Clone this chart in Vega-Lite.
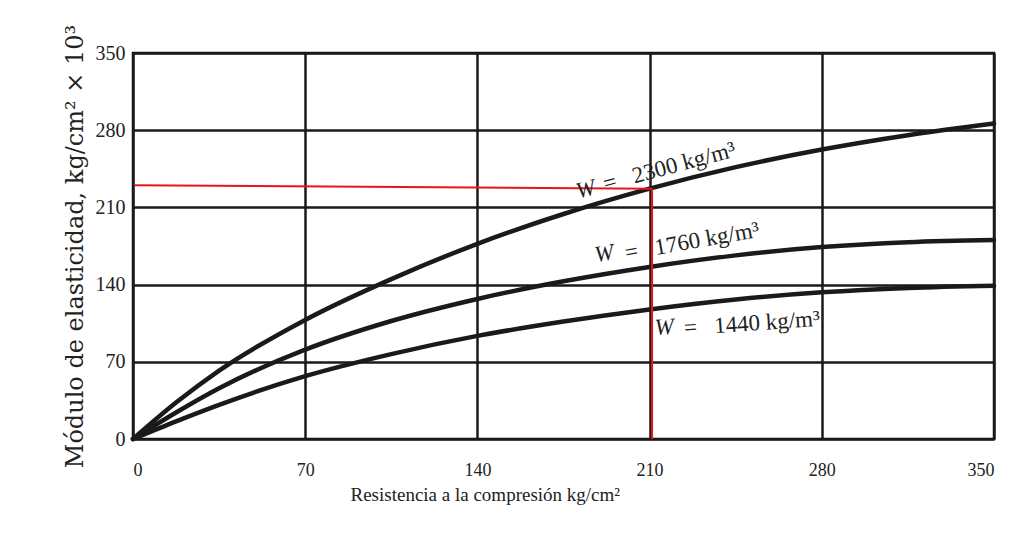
{
  "$schema": "https://vega.github.io/schema/vega-lite/v6.json",
  "width": 861,
  "height": 386,
  "autosize": {"type": "none"},
  "padding": {"left": 133, "top": 53, "right": 41, "bottom": 94},
  "background": "white",
  "config": {
    "view": {"stroke": "#111", "strokeWidth": 2.5},
    "axis": {
      "domain": false,
      "ticks": false,
      "grid": true,
      "gridColor": "#1a1a1a",
      "gridWidth": 2.5,
      "gridOpacity": 1,
      "labelFont": "Liberation Serif",
      "labelColor": "#222",
      "titleColor": "#222",
      "titleFontWeight": "normal"
    }
  },
  "datasets": {
    "curves": [
      {"r": 0, "e": 0, "w": "2300"}, {"r": 17.5, "e": 33, "w": "2300"}, {"r": 35, "e": 62, "w": "2300"},
      {"r": 70, "e": 108, "w": "2300"}, {"r": 105, "e": 145, "w": "2300"}, {"r": 140, "e": 177, "w": "2300"},
      {"r": 175, "e": 204, "w": "2300"}, {"r": 210, "e": 227, "w": "2300"}, {"r": 245, "e": 246.5, "w": "2300"},
      {"r": 280, "e": 262.5, "w": "2300"}, {"r": 315, "e": 275.5, "w": "2300"}, {"r": 350, "e": 286, "w": "2300"},
      {"r": 0, "e": 0, "w": "1760"}, {"r": 17.5, "e": 24, "w": "1760"}, {"r": 35, "e": 46, "w": "1760"},
      {"r": 70, "e": 81, "w": "1760"}, {"r": 105, "e": 107, "w": "1760"}, {"r": 140, "e": 127, "w": "1760"},
      {"r": 175, "e": 143, "w": "1760"}, {"r": 210, "e": 156, "w": "1760"}, {"r": 245, "e": 166.5, "w": "1760"},
      {"r": 280, "e": 174, "w": "1760"}, {"r": 315, "e": 178.5, "w": "1760"}, {"r": 350, "e": 180.5, "w": "1760"},
      {"r": 0, "e": 0, "w": "1440"}, {"r": 17.5, "e": 16, "w": "1440"}, {"r": 35, "e": 31, "w": "1440"},
      {"r": 70, "e": 57, "w": "1440"}, {"r": 105, "e": 77, "w": "1440"}, {"r": 140, "e": 93.5, "w": "1440"},
      {"r": 175, "e": 106.5, "w": "1440"}, {"r": 210, "e": 117.5, "w": "1440"}, {"r": 245, "e": 126.5, "w": "1440"},
      {"r": 280, "e": 133, "w": "1440"}, {"r": 315, "e": 137, "w": "1440"}, {"r": 350, "e": 139, "w": "1440"}
    ],
    "redlines": [
      {"x": 0.5, "y": 230, "x2": 211, "y2": 227},
      {"x": 211, "y": 227, "x2": 211, "y2": 0}
    ],
    "wlabels": [
      {"x": 184, "y": 226.3, "a": -15},
      {"x": 191.6, "y": 168, "a": -10},
      {"x": 216, "y": 101.2, "a": -4}
    ],
    "labels": [
      {"x": 191.3, "y": 230.8, "a": -15, "t": "= \u20022300 kg/m³"},
      {"x": 200, "y": 168.3, "a": -10, "t": "= \u20021760 kg/m³"},
      {"x": 224, "y": 100.3, "a": -4, "t": "= \u20021440 kg/m³"}
    ]
  },
  "layer": [
    {
      "data": {"name": "curves"},
      "mark": {"type": "line", "interpolate": "monotone", "stroke": "#1a1a1a", "strokeWidth": 4.5, "strokeCap": "round"},
      "encoding": {
        "x": {
          "field": "r", "type": "quantitative",
          "scale": {"domain": [0, 350], "nice": false},
          "axis": {
            "values": [0, 70, 140, 210, 280, 350],
            "labelFontSize": 18, "labelPadding": 22,
            "title": "Resistencia a la compresión kg/cm²",
            "titleFont": "Liberation Serif", "titleFontSize": 19, "titlePadding": 6,
            "titleX": 217, "titleAlign": "left"
          }
        },
        "y": {
          "field": "e", "type": "quantitative",
          "scale": {"domain": [0, 350], "nice": false},
          "axis": {
            "values": [0, 70, 140, 210, 280, 350],
            "labelFontSize": 20, "labelPadding": 8,
            "title": "Módulo de elasticidad, kg/cm² × 10³",
            "titleFont": "DejaVu Serif", "titleFontSize": 24, "titlePadding": 8
          }
        },
        "detail": {"field": "w", "type": "nominal"}
      }
    },
    {
      "data": {"name": "redlines"},
      "mark": {"type": "rule", "color": "#e8141b", "strokeWidth": 2},
      "encoding": {
        "x": {"field": "x", "type": "quantitative"},
        "y": {"field": "y", "type": "quantitative"},
        "x2": {"field": "x2"},
        "y2": {"field": "y2"}
      }
    },
    {
      "data": {"name": "wlabels"},
      "mark": {"type": "text", "text": "W", "font": "Liberation Serif", "fontStyle": "italic", "fontSize": 23, "color": "#222", "align": "center", "baseline": "middle"},
      "encoding": {
        "x": {"field": "x", "type": "quantitative"},
        "y": {"field": "y", "type": "quantitative"},
        "angle": {"field": "a", "type": "quantitative", "scale": null}
      }
    },
    {
      "data": {"name": "labels"},
      "mark": {"type": "text", "font": "Liberation Serif", "fontSize": 23, "color": "#222", "align": "left", "baseline": "middle"},
      "encoding": {
        "x": {"field": "x", "type": "quantitative"},
        "y": {"field": "y", "type": "quantitative"},
        "text": {"field": "t", "type": "nominal"},
        "angle": {"field": "a", "type": "quantitative", "scale": null}
      }
    }
  ]
}
